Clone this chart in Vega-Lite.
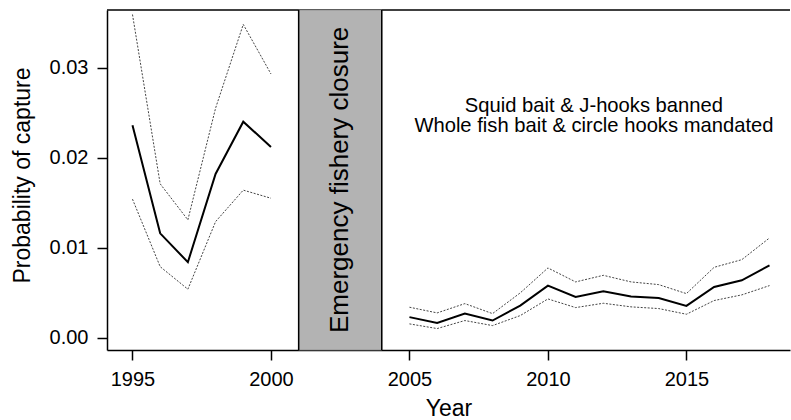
{
  "$schema": "https://vega.github.io/schema/vega-lite/v6.json",
  "width": 683,
  "height": 340,
  "autosize": {"type": "none"},
  "padding": {"left": 107, "top": 10, "right": 1, "bottom": 70},
  "background": "white",
  "config": {
    "view": {"stroke": null},
    "font": "Liberation Sans",
    "axis": {
      "domainColor": "black", "domainWidth": 1.5,
      "tickColor": "black", "tickWidth": 1.5, "tickSize": 10,
      "labelFont": "Liberation Sans", "labelFontSize": 20, "labelColor": "black",
      "titleFont": "Liberation Sans", "titleFontSize": 23, "titleFontWeight": "normal", "titleColor": "black",
      "grid": false
    }
  },
  "datasets": {
    "series": [
      {"year": 1995, "mean": 0.0236, "lower": 0.0154, "upper": 0.0359, "period": "early"},
      {"year": 1996, "mean": 0.0116, "lower": 0.0079, "upper": 0.0171, "period": "early"},
      {"year": 1997, "mean": 0.0084, "lower": 0.0054, "upper": 0.0131, "period": "early"},
      {"year": 1998, "mean": 0.0182, "lower": 0.0129, "upper": 0.0255, "period": "early"},
      {"year": 1999, "mean": 0.0240, "lower": 0.0164, "upper": 0.0348, "period": "early"},
      {"year": 2000, "mean": 0.0212, "lower": 0.0155, "upper": 0.0293, "period": "early"},
      {"year": 2005, "mean": 0.0023, "lower": 0.00155, "upper": 0.0034, "period": "late"},
      {"year": 2006, "mean": 0.00166, "lower": 0.00103, "upper": 0.00277, "period": "late"},
      {"year": 2007, "mean": 0.00269, "lower": 0.00192, "upper": 0.0038, "period": "late"},
      {"year": 2008, "mean": 0.00192, "lower": 0.00136, "upper": 0.00269, "period": "late"},
      {"year": 2009, "mean": 0.00358, "lower": 0.00247, "upper": 0.00499, "period": "late"},
      {"year": 2010, "mean": 0.0058, "lower": 0.00432, "upper": 0.00776, "period": "late"},
      {"year": 2011, "mean": 0.00454, "lower": 0.00336, "upper": 0.00621, "period": "late"},
      {"year": 2012, "mean": 0.00517, "lower": 0.00384, "upper": 0.00694, "period": "late"},
      {"year": 2013, "mean": 0.00458, "lower": 0.00344, "upper": 0.00621, "period": "late"},
      {"year": 2014, "mean": 0.00443, "lower": 0.00325, "upper": 0.00591, "period": "late"},
      {"year": 2015, "mean": 0.00355, "lower": 0.00262, "upper": 0.00491, "period": "late"},
      {"year": 2016, "mean": 0.00565, "lower": 0.00414, "upper": 0.00783, "period": "late"},
      {"year": 2017, "mean": 0.00639, "lower": 0.00477, "upper": 0.00868, "period": "late"},
      {"year": 2018, "mean": 0.00805, "lower": 0.0058, "upper": 0.01109, "period": "late"}
    ],
    "closure": [{"start": 2001, "end": 2004}],
    "edges": [{"year": 2001}, {"year": 2004}],
    "border": [{"top": 0.0364}],
    "notes": [
      {"x": 2011.66, "y": 0.02507, "label": "Squid bait & J-hooks banned"},
      {"x": 2011.66, "y": 0.0228, "label": "Whole fish bait & circle hooks mandated"}
    ],
    "closureLabel": [{"x": 2002.5, "y": 0.01754, "label": "Emergency fishery closure"}]
  },
  "layer": [
    {
      "data": {"name": "border"},
      "mark": {"type": "rule", "color": "black", "strokeWidth": 1.5},
      "encoding": {
        "y": {"field": "top", "type": "quantitative", "scale": {"domain": [-0.00135, 0.0364], "nice": false, "zero": false},
              "axis": {"values": [0, 0.01, 0.02, 0.03], "format": ".2f", "title": "Probability of capture", "labelPadding": 9, "titlePadding": 15, "titleY": 165}}
      }
    },
    {
      "data": {"name": "closure"},
      "mark": {"type": "rect", "fill": "#b3b3b3", "stroke": "#8c8c8c", "strokeWidth": 0.8},
      "encoding": {
        "x": {"field": "start", "type": "quantitative"},
        "x2": {"field": "end"}
      }
    },
    {
      "data": {"name": "edges"},
      "mark": {"type": "rule", "color": "black", "strokeWidth": 1.5},
      "encoding": {
        "x": {"field": "year", "type": "quantitative"}
      }
    },
    {
      "data": {"name": "series"},
      "mark": {"type": "line", "color": "#444444", "strokeWidth": 1, "strokeDash": [2, 1.5]},
      "encoding": {
        "x": {"field": "year", "type": "quantitative"},
        "y": {"field": "upper", "type": "quantitative"},
        "detail": {"field": "period"}
      }
    },
    {
      "data": {"name": "series"},
      "mark": {"type": "line", "color": "#444444", "strokeWidth": 1, "strokeDash": [2, 1.5]},
      "encoding": {
        "x": {"field": "year", "type": "quantitative"},
        "y": {"field": "lower", "type": "quantitative"},
        "detail": {"field": "period"}
      }
    },
    {
      "data": {"name": "series"},
      "mark": {"type": "line", "color": "black", "strokeWidth": 2},
      "encoding": {
        "x": {"field": "year", "type": "quantitative",
              "scale": {"domain": [1994.08, 2018.74], "nice": false, "zero": false},
              "axis": {"values": [1995, 2000, 2005, 2010, 2015], "format": "d", "title": "Year", "labelPadding": 9, "titlePadding": 8}},
        "y": {"field": "mean", "type": "quantitative"},
        "detail": {"field": "period"}
      }
    },
    {
      "data": {"name": "notes"},
      "mark": {"type": "text", "font": "Liberation Sans", "fontSize": 20.2, "align": "center", "baseline": "alphabetic", "color": "black"},
      "encoding": {
        "x": {"field": "x", "type": "quantitative"},
        "y": {"field": "y", "type": "quantitative"},
        "text": {"field": "label"}
      }
    },
    {
      "data": {"name": "closureLabel"},
      "mark": {"type": "text", "font": "Liberation Sans", "fontSize": 26, "angle": 270, "align": "center", "baseline": "middle", "color": "black"},
      "encoding": {
        "x": {"field": "x", "type": "quantitative"},
        "y": {"field": "y", "type": "quantitative"},
        "text": {"field": "label"}
      }
    }
  ]
}
